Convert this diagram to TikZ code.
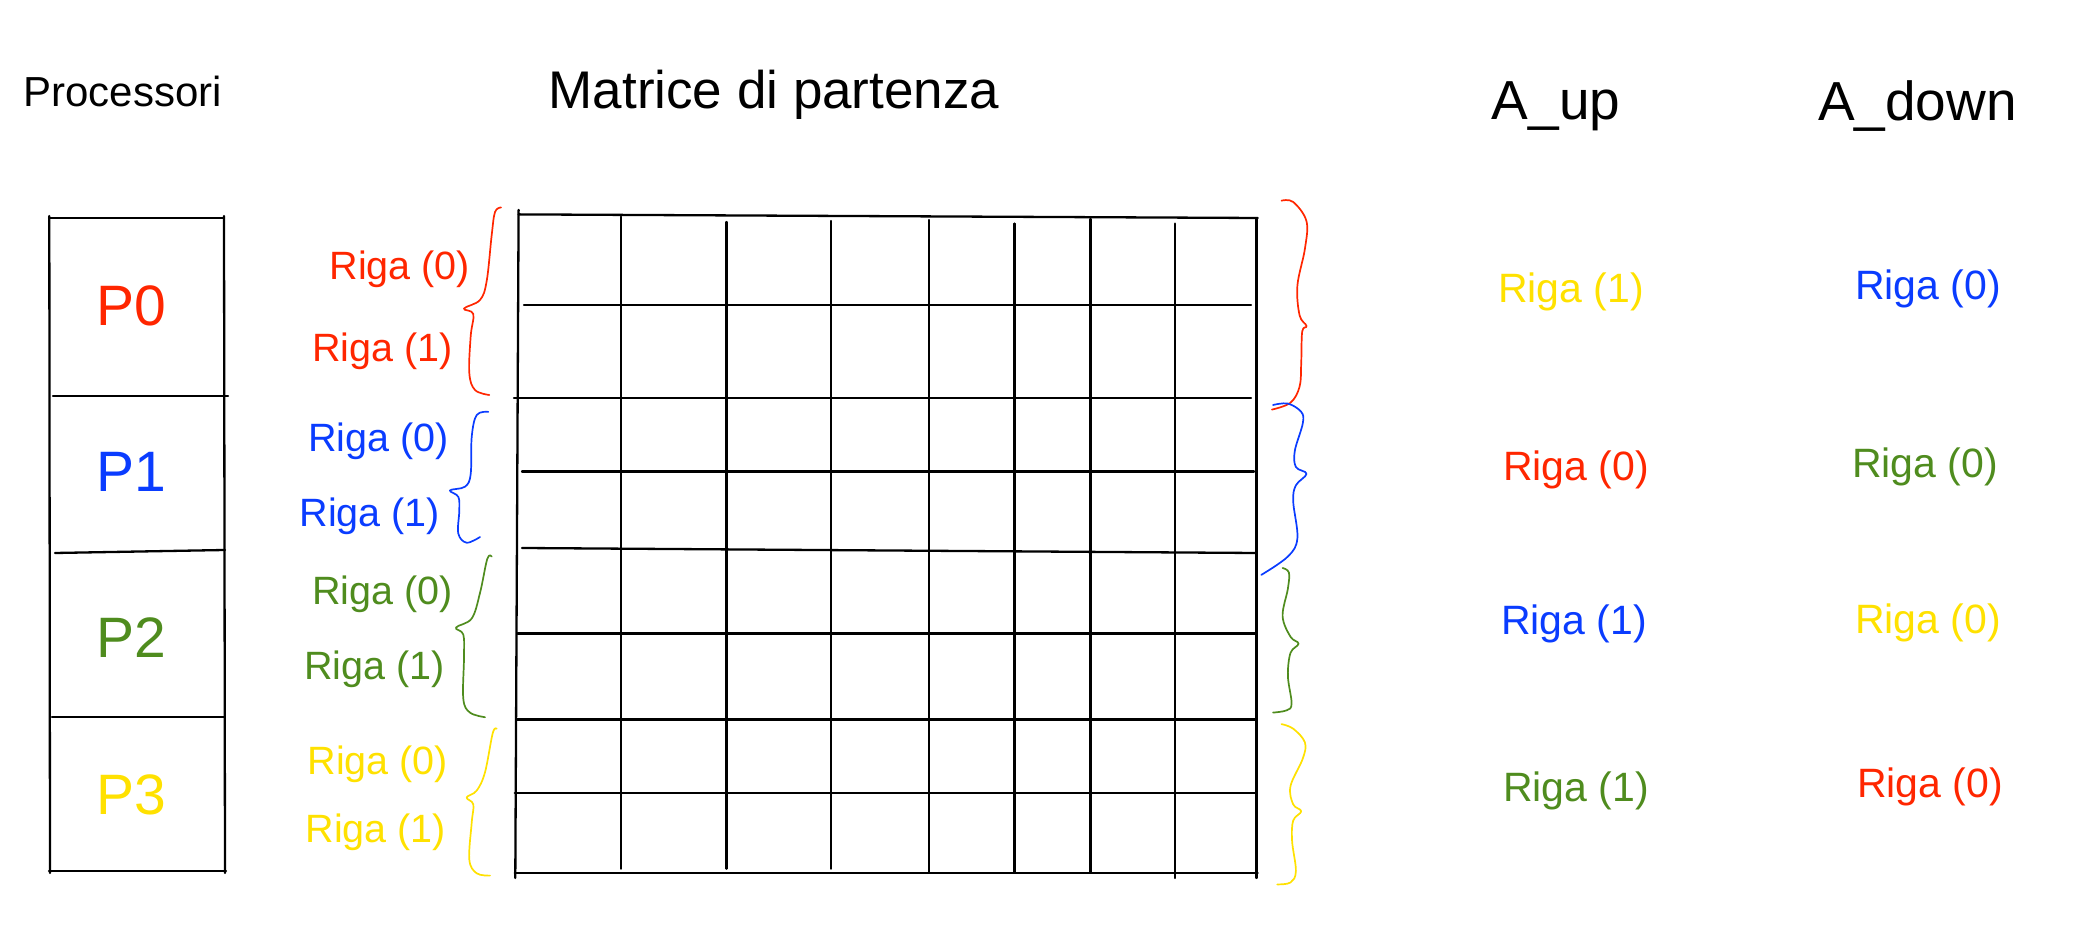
\documentclass[tikz,border=0pt]{standalone}
\usepackage{fontspec}
\setmainfont{Liberation Sans}
\definecolor{cred}{RGB}{255,38,0}
\definecolor{cblue}{RGB}{10,60,255}
\definecolor{cgreen}{RGB}{79,140,30}
\definecolor{cyellow}{RGB}{255,225,0}
\tikzset{
  gridline/.style={line width=1.15pt, line cap=round},
  hbrace/.style={line width=0.85pt, line cap=round, line join=round},
  lbl/.style={inner sep=0pt, anchor=base},
  lriga/.style={inner sep=0pt, anchor=base east, font=\fontsize{19.75}{23}\selectfont},
  rriga/.style={inner sep=0pt, anchor=base, font=\fontsize{20.5}{24}\selectfont},
  pname/.style={inner sep=0pt, anchor=base, font=\fontsize{28.5}{32}\selectfont},
}
\begin{document}
\begin{tikzpicture}[x=0.5pt,y=-0.5pt]
\useasboundingbox (0,0) rectangle (2074,929);
% titles
\node[lbl, font=\fontsize{21}{25}\selectfont] (tproc) at (122.8,106.7) {Processori};
\node[lbl, font=\fontsize{26.5}{30}\selectfont] (tmat) at (774,109) {Matrice di partenza};
\node[lbl, font=\fontsize{27.5}{31}\selectfont] (tup) at (1556,120) {A\_up};
\node[lbl, font=\fontsize{27.5}{31}\selectfont] (tdown) at (1917.5,120.5) {A\_down};
% processor box
\draw[gridline] (49.3,216) -- (50,873);
\draw[gridline] (224,216) -- (225,873);
\draw[gridline] (49,218) -- (224,218);
\draw[gridline] (53,396) -- (228,396);
\draw[gridline] (55,553) -- (225,550);
\draw[gridline] (52,717) -- (224,717);
\draw[gridline] (49,871) -- (226,871);
\node[pname, text=cred] (p0) at (131,326) {P0};
\node[pname, text=cblue] (p1) at (131,491.7) {P1};
\node[pname, text=cgreen] (p2) at (131,658) {P2};
\node[pname, text=cyellow] (p3) at (131,815) {P3};
% left labels
\node[lriga, text=cred] (l00) at (470.5,280) {Riga (0)};
\node[lriga, text=cred] (l01) at (453,361.7) {Riga (1)};
\node[lriga, text=cblue] (l10) at (449,451.7) {Riga (0)};
\node[lriga, text=cblue] (l11) at (440.5,526.7) {Riga (1)};
\node[lriga, text=cgreen] (l20) at (453,605) {Riga (0)};
\node[lriga, text=cgreen] (l21) at (445,680) {Riga (1)};
\node[lriga, text=cyellow] (l30) at (448.5,775) {Riga (0)};
\node[lriga, text=cyellow] (l31) at (446.5,843) {Riga (1)};
% matrix grid
\draw[gridline] (518.6,214.4) -- (1257.7,218);
\draw[gridline] (524,305.3) -- (1251,305.3);
\draw[gridline] (514,398) -- (1251,398);
\draw[gridline] (522,471.5) -- (1254,471.5);
\draw[gridline] (522,548) -- (1256,553);
\draw[gridline] (517.5,633.6) -- (1256.6,633.6);
\draw[gridline] (516.4,719.5) -- (1255.6,719.5);
\draw[gridline] (514.8,793) -- (1256.6,793);
\draw[gridline] (514.8,873) -- (1257.7,873);
\draw[gridline] (518.6,210) -- (515.3,878);
\draw[gridline] (620.9,216.7) -- (620.9,868.7);
\draw[gridline] (726.4,222) -- (726.4,868.7);
\draw[gridline] (830.8,221) -- (830.8,868.7);
\draw[gridline] (928.8,220) -- (928.8,872);
\draw[gridline] (1014.5,223.6) -- (1014.5,872);
\draw[gridline] (1090.6,219) -- (1090.6,872);
\draw[gridline] (1174.7,223.6) -- (1174.7,878);
\draw[gridline] (1256.6,219) -- (1256.6,878);
% left braces
\draw[hbrace, cred] plot[smooth, tension=0.6] coordinates {(501,207.5) (495,212) (491.7,235) (486.7,281) (480,300) (464,308.6) (473.3,314) (470.7,336) (469.3,373) (475,390) (489.3,395)};
\draw[hbrace, cblue] plot[smooth, tension=0.6] coordinates {(488.3,411.9) (476.7,415) (471.7,437) (470.7,474) (465,486.7) (450,490.4) (458.3,496.8) (459.3,510.6) (458.3,533.5) (466.7,542.7) (480,537)};
\draw[hbrace, cgreen] plot[smooth, tension=0.6] coordinates {(491.7,556.5) (487.3,558.8) (480,593) (471.7,618.5) (456,627.6) (463.3,634.5) (464,657.5) (463.3,698.8) (470,712.6) (485,717.2)};
\draw[hbrace, cyellow] plot[smooth, tension=0.6] coordinates {(496.7,728.7) (492.7,733.3) (485,772.3) (476.7,790.6) (466.7,797.5) (473.3,804.4) (471.7,822.8) (469.3,859.5) (476.7,873.3) (490,875.6)};
% right braces
\draw[hbrace, cred] plot[smooth, tension=0.6] coordinates {(1281.5,200.7) (1293.2,202) (1306.5,221.3) (1304.9,248.9) (1297.4,285.6) (1299.6,315.4) (1306.5,326) (1302.2,331.5) (1301.2,363.7) (1299.6,386.6) (1290.5,402.7) (1271.9,409.6)};
\draw[hbrace, cblue] plot[smooth, tension=0.6] coordinates {(1273,405) (1287.9,403.6) (1301.2,411.9) (1302.8,423.3) (1294.8,450.9) (1295.9,467) (1306.5,473.8) (1295.9,485.3) (1293.2,501.4) (1297.4,538.1) (1287.9,556.5) (1261.3,574.9)};
\draw[hbrace, cgreen] plot[smooth, tension=0.6] coordinates {(1282.6,568) (1288.9,572.6) (1287.9,588.6) (1282.6,616.2) (1290.5,636.8) (1298.5,643.7) (1290.5,652.9) (1287.9,675.9) (1291.6,703.4) (1286.8,710.3) (1273,712.6)};
\draw[hbrace, cyellow] plot[smooth, tension=0.6] coordinates {(1281.5,724.1) (1293.2,728.7) (1304.9,742.4) (1302.8,758.5) (1290.5,786.1) (1293.2,804.4) (1301.2,811.3) (1293.2,820.5) (1292.1,841.1) (1295.9,871) (1290.5,882.5) (1277.2,884.4)};
% A_up column
\node[rriga, text=cyellow] (u0) at (1571,303) {Riga (1)};
\node[rriga, text=cred] (u1) at (1576,481) {Riga (0)};
\node[rriga, text=cblue] (u2) at (1574,634.5) {Riga (1)};
\node[rriga, text=cgreen] (u3) at (1576,802) {Riga (1)};
% A_down column
\node[rriga, text=cblue] (d0) at (1928,300) {Riga (0)};
\node[rriga, text=cgreen] (d1) at (1925,477.5) {Riga (0)};
\node[rriga, text=cyellow] (d2) at (1928,633.6) {Riga (0)};
\node[rriga, text=cred] (d3) at (1930,797.5) {Riga (0)};
\end{tikzpicture}
\end{document}
